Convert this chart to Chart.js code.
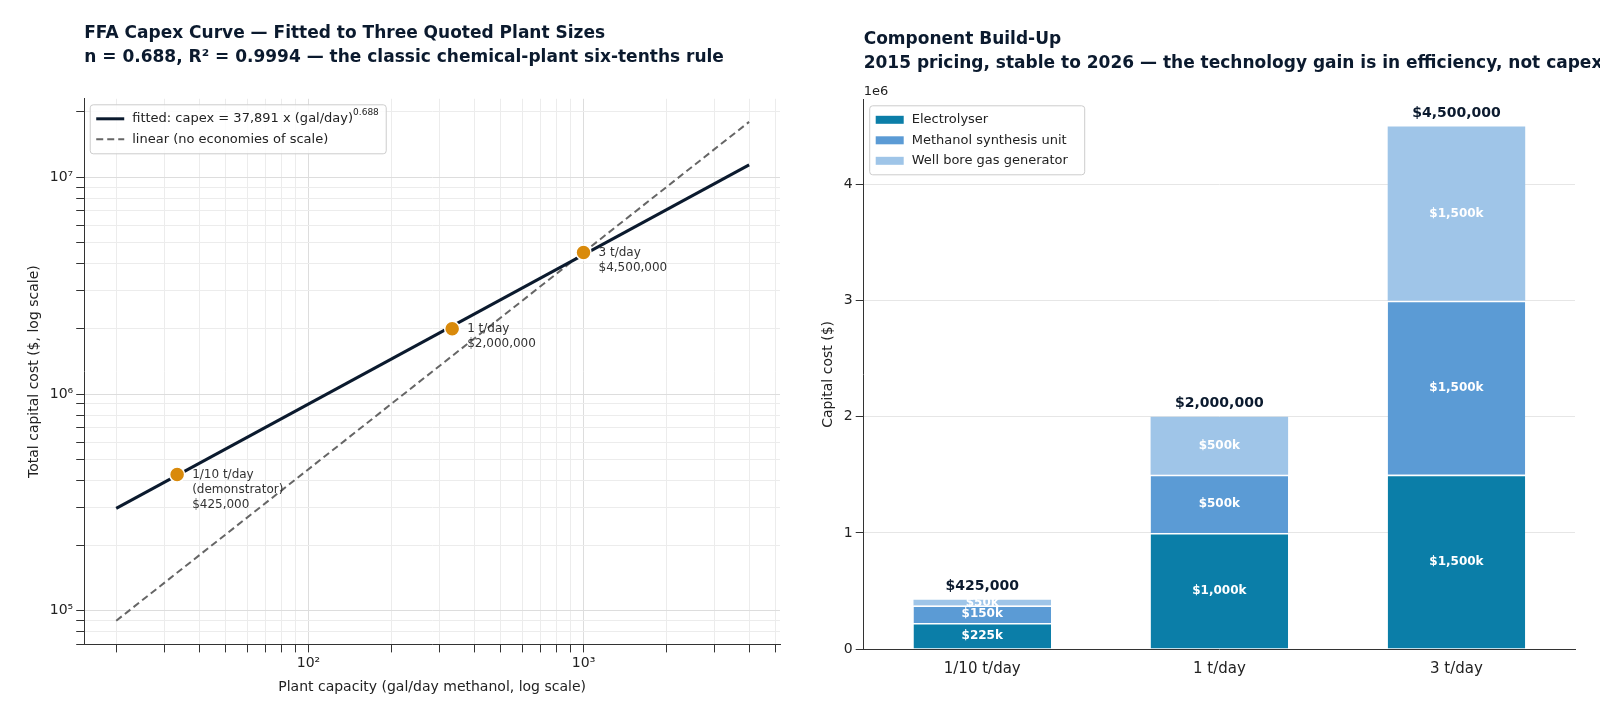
<!DOCTYPE html>
<html><head><meta charset="utf-8">
<script src="https://cdn.jsdelivr.net/npm/chart.js@4"></script>
<style>
body{margin:0;background:#fff;width:1600px;height:725px;overflow:hidden;font-family:"DejaVu Sans";}
#a{position:absolute;left:0;top:0;width:800px;height:725px}
#b{position:absolute;left:800px;top:0;width:800px;height:725px}
</style></head><body>
<div id="a"><canvas id="c1"></canvas></div>
<div id="b"><canvas id="c2"></canvas></div>
<script>
// ---- left chart data ----
const fitX = [20, 4000];
const fitY = [297000, 11400000];
const linX = [20, 4000];
const linY = [90000, 18000000];
const quoteX = [33.3, 333, 1000];
const quoteY = [425000, 2000000, 4500000];
const quoteLabels = [["1/10 t/day","(demonstrator)","$425,000"],["1 t/day","$2,000,000"],["3 t/day","$4,500,000"]];
// ---- right chart data ----
const categories = ["1/10 t/day","1 t/day","3 t/day"];
const electrolyser = [225000, 1000000, 1500000];
const methanolUnit = [150000, 500000, 1500000];
const wellBore = [50000, 500000, 1500000];
const totals = [425000, 2000000, 4500000];
const totalLabels = ["$425,000","$2,000,000","$4,500,000"];

const F = "DejaVu Sans";
const DARK = "#0b1a2e";
Chart.defaults.font.family = F;
Chart.defaults.animation = false;

function supNum(n){const m={'0':'⁰','1':'¹','2':'²','3':'³','4':'⁴','5':'⁵','6':'⁶','7':'⁷','8':'⁸','9':'⁹'};return '10'+String(n).split('').map(c=>m[c]).join('');}
function logTicks(a,b){const t=[];for(let e=a;e<=b;e++){for(let k=1;k<10;k++)t.push({value:k*Math.pow(10,e)});}return t;}
function isDecade(v){const l=Math.log10(v);return Math.abs(l-Math.round(l))<1e-9;}

const titlePlugin = {
  id:'myTitle',
  afterDraw(chart, args, opts){
    const ctx=chart.ctx;ctx.save();
    ctx.font='bold 17px '+F;ctx.fillStyle=DARK;ctx.textBaseline='alphabetic';
    opts.lines.forEach((t,i)=>ctx.fillText(t,chart.chartArea.left+opts.dx,opts.y+i*24));
    ctx.restore();
  }
};

const legendPlugin = {
  id:'customLegend',
  afterDraw(chart, args, opts){
    const ctx=chart.ctx, a=chart.chartArea;
    const x=a.left+opts.dx, y=a.top+opts.dy;
    ctx.save();
    ctx.fillStyle='rgba(255,255,255,0.85)';ctx.strokeStyle='#cccccc';ctx.lineWidth=1;
    ctx.beginPath();ctx.roundRect(x,y,opts.w,opts.items.length*20+9,3);ctx.fill();ctx.stroke();
    ctx.font='13px '+F;ctx.textBaseline='middle';ctx.fillStyle='#222';
    opts.items.forEach((it,i)=>{
      const cy=y+14+i*20.5;
      if(it.type==='line'){ctx.strokeStyle=it.color;ctx.lineWidth=it.width;ctx.setLineDash(it.dash||[]);
        ctx.beginPath();ctx.moveTo(x+6,cy);ctx.lineTo(x+34,cy);ctx.stroke();ctx.setLineDash([]);}
      else{ctx.fillStyle=it.color;ctx.fillRect(x+6,cy-4,28,8);}
      ctx.fillStyle='#222';
      if(it.sup){ctx.fillText(it.text,x+42,cy);const w=ctx.measureText(it.text).width;ctx.font='9px '+F;ctx.fillText(it.sup,x+42+w,cy-6);ctx.font='13px '+F;}
      else ctx.fillText(it.text,x+42,cy);
    });
    ctx.restore();
  }
};

const annPlugin = {
  id:'ann',
  afterDatasetsDraw(chart){
    const ctx=chart.ctx, xs=chart.scales.x, ys=chart.scales.y;
    ctx.save();ctx.font='12px '+F;ctx.fillStyle='#333';ctx.textBaseline='top';
    quoteX.forEach((v,i)=>{
      const px=xs.getPixelForValue(v)+15, py=ys.getPixelForValue(quoteY[i]);
      quoteLabels[i].forEach((t,j)=>ctx.fillText(t,px,py-6+j*15));
    });
    ctx.restore();
  }
};

new Chart(document.getElementById('c1'),{
  type:'scatter',
  data:{datasets:[
    {data:quoteX.map((x,i)=>({x,y:quoteY[i]})),backgroundColor:'#d98a0b',borderColor:'#fff',borderWidth:1.5,pointRadius:7.5,order:0},
    {type:'line',data:fitX.map((x,i)=>({x,y:fitY[i]})),borderColor:DARK,borderWidth:3,pointRadius:0,order:1},
    {type:'line',data:linX.map((x,i)=>({x,y:linY[i]})),borderColor:'#666',borderWidth:2,borderDash:[7,4],pointRadius:0,order:2}
  ]},
  options:{
    responsive:true,maintainAspectRatio:false,
    layout:{padding:{left:22,right:20,top:0,bottom:25}},
    plugins:{
      legend:{display:false},tooltip:{enabled:false},
      title:{display:true,align:'start',color:'rgba(0,0,0,0)',font:{size:17,weight:'bold',family:F},
        text:['FFA Capex Curve — Fitted to Three Quoted Plant Sizes','n = 0.688, R² = 0.9994 — the classic chemical-plant six-tenths rule'],
        padding:{top:20,bottom:38}},
      myTitle:{dx:0,y:38,lines:['FFA Capex Curve — Fitted to Three Quoted Plant Sizes','n = 0.688, R² = 0.9994 — the classic chemical-plant six-tenths rule']},
      customLegend:{dx:6,dy:6,w:296,items:[
        {type:'line',color:DARK,width:3,text:'fitted: capex = 37,891 x (gal/day)',sup:'0.688'},
        {type:'line',color:'#666',width:2,dash:[7,4],text:'linear (no economies of scale)'}]}
    },
    scales:{
      x:{type:'logarithmic',min:15.3,max:5180,
        afterBuildTicks:s=>{s.ticks=logTicks(1,3).filter(t=>t.value>=15.3&&t.value<=5180);},
        ticks:{autoSkip:false,maxRotation:0,color:'#222',font:{size:14},callback:v=>isDecade(v)?supNum(Math.round(Math.log10(v))):''},
        grid:{color:c=>c.tick&&isDecade(c.tick.value)?'#dddddd':'#ececec',tickColor:'#333'},
        border:{color:'#333'},
        title:{display:true,text:'Plant capacity (gal/day methanol, log scale)',color:'#222',font:{size:14}}},
      y:{type:'logarithmic',min:70000,max:23000000,
        afterBuildTicks:s=>{s.ticks=logTicks(4,7).filter(t=>t.value>=70000&&t.value<=23000000);},
        ticks:{autoSkip:false,color:'#222',font:{size:14},callback:v=>isDecade(v)?supNum(Math.round(Math.log10(v))):''},
        grid:{color:c=>c.tick&&isDecade(c.tick.value)?'#dddddd':'#ececec',tickColor:'#333'},
        border:{color:'#333'},
        title:{display:true,text:'Total capital cost ($, log scale)',color:'#222',font:{size:14}}}
    }
  },
  plugins:[legendPlugin,annPlugin,titlePlugin]
});

const barLabelPlugin = {
  id:'barLabels',
  afterDatasetsDraw(chart){
    const ctx=chart.ctx;ctx.save();ctx.textAlign='center';ctx.textBaseline='middle';
    chart.data.datasets.forEach((ds,di)=>{
      chart.getDatasetMeta(di).data.forEach((el,i)=>{
        ctx.font='bold 12px '+F;ctx.fillStyle='#fff';
        ctx.fillText('$'+Math.round(ds.data[i]/1000).toLocaleString('en-US')+'k',el.x,(el.y+el.base)/2);
      });
    });
    const ys=chart.scales.y, xs=chart.scales.x;
    ctx.font='bold 14px '+F;ctx.fillStyle=DARK;ctx.textBaseline='bottom';
    totals.forEach((t,i)=>ctx.fillText(totalLabels[i],xs.getPixelForValue(i),ys.getPixelForValue(t)-6));
    ctx.font='13px '+F;ctx.fillStyle='#222';ctx.textAlign='left';
    ctx.fillText('1e6',chart.chartArea.left,chart.chartArea.top-2);
    ctx.restore();
  }
};

new Chart(document.getElementById('c2'),{
  type:'bar',
  data:{labels:categories,datasets:[
    {label:'Electrolyser',data:electrolyser,backgroundColor:'#0b7ea8',borderColor:'#fff',borderWidth:{top:1.5}, barPercentage:0.58,categoryPercentage:1},
    {label:'Methanol synthesis unit',data:methanolUnit,backgroundColor:'#5b9bd5',borderColor:'#fff',borderWidth:{top:1.5},barPercentage:0.58,categoryPercentage:1},
    {label:'Well bore gas generator',data:wellBore,backgroundColor:'#9fc5e8',borderColor:'#fff',borderWidth:{top:0},barPercentage:0.58,categoryPercentage:1}
  ]},
  options:{
    responsive:true,maintainAspectRatio:false,
    layout:{padding:{left:16,right:25,top:0,bottom:44}},
    plugins:{
      legend:{display:false},tooltip:{enabled:false},
      title:{display:true,align:'start',color:'rgba(0,0,0,0)',font:{size:17,weight:'bold',family:F},
        text:['Component Build-Up','2015 pricing, stable to 2026 — the technology gain is in efficiency, not capex'],
        padding:{top:26,bottom:33}},
      myTitle:{dx:0,y:44,lines:['Component Build-Up','2015 pricing, stable to 2026 — the technology gain is in efficiency, not capex']},
      customLegend:{dx:6,dy:6,w:215,items:[
        {type:'box',color:'#0b7ea8',text:'Electrolyser'},
        {type:'box',color:'#5b9bd5',text:'Methanol synthesis unit'},
        {type:'box',color:'#9fc5e8',text:'Well bore gas generator'}]}
    },
    scales:{
      x:{stacked:true,grid:{display:false,tickColor:'#333'},border:{color:'#333'},ticks:{color:'#222',font:{size:15}}},
      y:{stacked:true,min:0,max:4730000,
        afterBuildTicks:s=>{s.ticks=[0,1,2,3,4].map(v=>({value:v*1e6}));},
        ticks:{color:'#222',font:{size:14},callback:v=>String(v/1e6)},
        grid:{color:'#e6e6e6',tickColor:'#333'},border:{color:'#333'},
        title:{display:true,text:'Capital cost ($)',color:'#222',font:{size:14}}}
    }
  },
  plugins:[legendPlugin,barLabelPlugin,titlePlugin]
});
</script></body></html>
